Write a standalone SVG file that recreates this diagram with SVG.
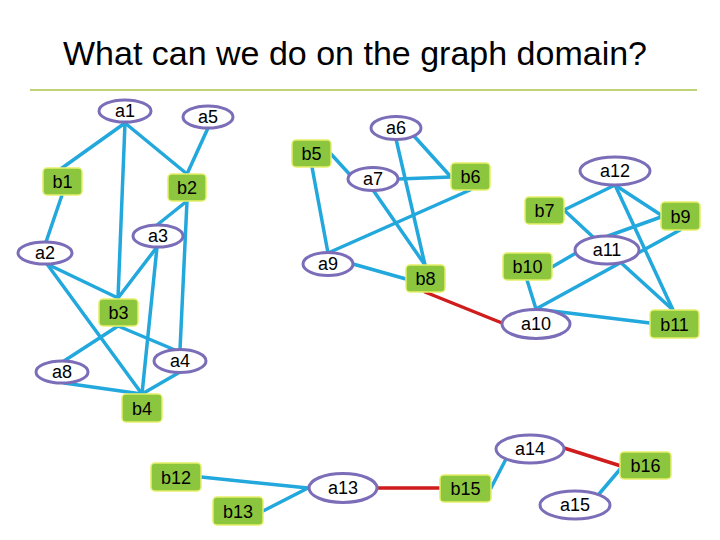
<svg xmlns="http://www.w3.org/2000/svg" width="720" height="540" viewBox="0 0 720 540">
<style>
.e{stroke:#22a8dc;stroke-width:3.5;fill:none;stroke-linecap:round}
.r{stroke:#d01c1c;stroke-width:3.5;fill:none;stroke-linecap:round}
.el{fill:#fff;stroke:#7b6db8;stroke-width:3}
.bx{fill:#8cc63f;stroke:#e6ef6a;stroke-width:1.5}
.t{font-family:"Liberation Sans",Arial,sans-serif;font-size:18px;fill:#000;text-anchor:middle}
.title{font-family:"Liberation Sans",Arial,sans-serif;font-size:34px;fill:#000;text-anchor:middle}
</style>
<rect width="720" height="540" fill="#fff"/>
<text class="title" x="355" y="65">What can we do on the graph domain?</text>
<line x1="30" y1="90" x2="697" y2="90" stroke="#a9c34a" stroke-width="1.5"/>
<g id="connectors">
<line class="e" x1="125" y1="123" x2="62" y2="168"/>
<line class="e" x1="125" y1="123" x2="187" y2="174"/>
<line class="e" x1="125" y1="123" x2="118" y2="298"/>
<line class="e" x1="208" y1="128" x2="187" y2="174"/>
<line class="e" x1="62" y1="195" x2="46" y2="242"/>
<line class="e" x1="187" y1="201" x2="157" y2="225"/>
<line class="e" x1="187" y1="201" x2="180" y2="350"/>
<line class="e" x1="157" y1="247" x2="118" y2="298"/>
<line class="e" x1="157" y1="247" x2="142" y2="394"/>
<line class="e" x1="47" y1="264" x2="118" y2="298"/>
<line class="e" x1="47" y1="264" x2="142" y2="394"/>
<line class="e" x1="118" y1="326" x2="64" y2="361"/>
<line class="e" x1="118" y1="326" x2="175" y2="350"/>
<line class="e" x1="64" y1="383" x2="142" y2="394"/>
<line class="e" x1="180" y1="372" x2="142" y2="394"/>
<line class="e" x1="312" y1="167" x2="328" y2="253"/>
<line class="e" x1="331" y1="154" x2="352" y2="177"/>
<line class="e" x1="398" y1="179" x2="451" y2="177"/>
<line class="e" x1="414" y1="136" x2="451" y2="177"/>
<line class="e" x1="396" y1="139" x2="425" y2="265"/>
<line class="e" x1="373" y1="190" x2="425" y2="265"/>
<line class="e" x1="470" y1="190" x2="328" y2="253"/>
<line class="e" x1="353" y1="264" x2="406" y2="279"/>
<line class="r" x1="425" y1="292" x2="502" y2="323"/>
<line class="e" x1="615" y1="185" x2="564" y2="210"/>
<line class="e" x1="615" y1="185" x2="661" y2="215"/>
<line class="e" x1="615" y1="185" x2="673" y2="310"/>
<line class="e" x1="564" y1="210" x2="607" y2="250"/>
<line class="e" x1="607" y1="250" x2="673" y2="310"/>
<line class="e" x1="661" y1="217" x2="608" y2="236"/>
<line class="e" x1="680" y1="230" x2="536" y2="309"/>
<line class="e" x1="576" y1="253" x2="552" y2="267"/>
<line class="e" x1="527" y1="280" x2="536" y2="309"/>
<line class="e" x1="536" y1="309" x2="650" y2="323"/>
<line class="e" x1="201" y1="477" x2="308" y2="488"/>
<line class="e" x1="263" y1="511" x2="308" y2="488"/>
<line class="r" x1="378" y1="488" x2="440" y2="488"/>
<line class="e" x1="506" y1="459" x2="491" y2="488"/>
<line class="r" x1="564" y1="448" x2="621" y2="466"/>
<line class="e" x1="622" y1="467" x2="599" y2="494"/>
</g>
<g id="a1"><ellipse class="el" cx="125" cy="111" rx="26" ry="11"/><text class="t" x="125" y="117">a1</text></g>
<g id="a5"><ellipse class="el" cx="208" cy="117" rx="25" ry="11"/><text class="t" x="208" y="123">a5</text></g>
<g id="a6"><ellipse class="el" cx="396" cy="128" rx="25" ry="11.5"/><text class="t" x="396" y="134">a6</text></g>
<g id="b5"><rect class="bx" x="292" y="140" width="39" height="27" rx="4"/><text class="t" x="311.5" y="160">b5</text></g>
<g id="b1"><rect class="bx" x="43" y="168" width="39" height="27" rx="4"/><text class="t" x="62.5" y="188">b1</text></g>
<g id="b2"><rect class="bx" x="168" y="174" width="38" height="27" rx="4"/><text class="t" x="187" y="194">b2</text></g>
<g id="a7"><ellipse class="el" cx="373" cy="179" rx="25" ry="11.5"/><text class="t" x="373" y="185">a7</text></g>
<g id="b6"><rect class="bx" x="451" y="163" width="39" height="27" rx="4"/><text class="t" x="470.5" y="183">b6</text></g>
<g id="a12"><ellipse class="el" cx="615" cy="171" rx="35" ry="14"/><text class="t" x="615" y="177">a12</text></g>
<g id="b7"><rect class="bx" x="525" y="197" width="39" height="27" rx="4"/><text class="t" x="544.5" y="217">b7</text></g>
<g id="b9"><rect class="bx" x="661" y="202" width="39" height="28" rx="4"/><text class="t" x="680.5" y="222.5">b9</text></g>
<g id="a3"><ellipse class="el" cx="158" cy="236" rx="25" ry="11"/><text class="t" x="158" y="242">a3</text></g>
<g id="a2"><ellipse class="el" cx="45" cy="253" rx="27" ry="11"/><text class="t" x="45" y="259">a2</text></g>
<g id="a9"><ellipse class="el" cx="328" cy="264" rx="25" ry="11.5"/><text class="t" x="328" y="270">a9</text></g>
<g id="b8"><rect class="bx" x="406" y="265" width="39" height="27" rx="4"/><text class="t" x="425.5" y="285">b8</text></g>
<g id="a11"><ellipse class="el" cx="607" cy="250" rx="32" ry="14"/><text class="t" x="607" y="256">a11</text></g>
<g id="b10"><rect class="bx" x="503" y="253" width="49" height="27" rx="4"/><text class="t" x="527.5" y="273">b10</text></g>
<g id="b3"><rect class="bx" x="99" y="299" width="39" height="27" rx="4"/><text class="t" x="118.5" y="319">b3</text></g>
<g id="a10"><ellipse class="el" cx="536" cy="324" rx="34" ry="14.5"/><text class="t" x="536" y="330">a10</text></g>
<g id="b11"><rect class="bx" x="650" y="310" width="49" height="28" rx="4"/><text class="t" x="674.5" y="330.5">b11</text></g>
<g id="a4"><ellipse class="el" cx="180" cy="361" rx="26" ry="11.5"/><text class="t" x="180" y="367">a4</text></g>
<g id="a8"><ellipse class="el" cx="62" cy="372" rx="26" ry="11"/><text class="t" x="62" y="378">a8</text></g>
<g id="b4"><rect class="bx" x="122" y="394" width="40" height="28" rx="4"/><text class="t" x="142" y="414.5">b4</text></g>
<g id="a14"><ellipse class="el" cx="530" cy="449" rx="34" ry="14"/><text class="t" x="530" y="455">a14</text></g>
<g id="b16"><rect class="bx" x="620" y="452" width="51" height="27" rx="4"/><text class="t" x="645.5" y="472">b16</text></g>
<g id="b12"><rect class="bx" x="151" y="463" width="50" height="28" rx="4"/><text class="t" x="176" y="483.5">b12</text></g>
<g id="a13"><ellipse class="el" cx="343" cy="488" rx="34" ry="14.5"/><text class="t" x="343" y="494">a13</text></g>
<g id="b15"><rect class="bx" x="440" y="475" width="51" height="27" rx="4"/><text class="t" x="465.5" y="495">b15</text></g>
<g id="a15"><ellipse class="el" cx="575" cy="505" rx="35" ry="14"/><text class="t" x="575" y="511">a15</text></g>
<g id="b13"><rect class="bx" x="213" y="497" width="50" height="28" rx="4"/><text class="t" x="238" y="517.5">b13</text></g>
</svg>
